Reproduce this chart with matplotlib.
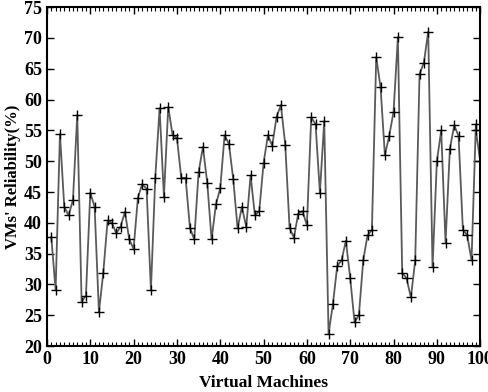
import numpy as np
import matplotlib
matplotlib.use('Agg')
import matplotlib.pyplot as plt
from matplotlib.ticker import MultipleLocator

# reliability of each virtual machine
vm_ids = list(range(1, 100)) + [99, 100]
reliability = [37.7, 29.1, 54.4, 42.6, 41.2, 43.7, 57.5, 27.2, 28.2, 44.9,
               42.6, 25.5, 31.9, 40.4, 40.0, 38.3, 39.4, 41.8, 37.3, 35.8,
               44.1, 46.3, 45.5, 29.1, 47.3, 58.6, 44.2, 58.8, 54.2, 53.8,
               47.3, 47.3, 39.2, 37.3, 48.2, 52.3, 46.5, 37.3, 43.0, 45.6,
               54.2, 52.8, 47.1, 39.1, 42.6, 39.3, 47.7, 41.2, 41.9, 49.7,
               54.2, 52.5, 57.2, 59.1, 52.7, 39.2, 37.6, 41.5, 41.9, 39.6,
               57.1, 56.0, 44.9, 56.5, 22.0, 26.8, 33.0, 33.9, 37.1, 31.0,
               23.9, 25.0, 33.9, 38.0, 38.8, 66.9, 62.0, 51.0, 54.1, 58.0,
               70.1, 31.9, 31.0, 27.9, 33.9, 64.1, 66.0, 71.0, 32.8, 50.0,
               55.0, 36.8, 52.0, 55.8, 54.1, 38.9, 38.0, 33.9, 56.0, 55.0,
               50.0]

plt.rcParams['font.family'] = ['Liberation Serif', 'DejaVu Serif']
plt.rcParams['font.weight'] = 'bold'

fig = plt.figure(figsize=(4.89, 3.92), dpi=100)
ax = fig.add_axes([0.096, 0.117, 0.886, 0.865])

ax.plot(vm_ids, reliability, color='#5a5a5a', linewidth=1.3, zorder=2)
ax.plot(vm_ids, reliability, linestyle='none', marker='+', markersize=6.5,
        markeredgewidth=1.0, color='black', zorder=3)

ax.set_xlim(0, 100)
ax.set_ylim(20, 75)
ax.xaxis.set_major_locator(MultipleLocator(10))
ax.xaxis.set_minor_locator(MultipleLocator(1))
ax.yaxis.set_major_locator(MultipleLocator(5))

ax.tick_params(axis='both', which='both', direction='in', top=True, right=True,
               labelsize=13)
ax.tick_params(which='major', length=5, width=1.0)
ax.tick_params(which='minor', length=3, width=0.8)
for lab in ax.get_xticklabels() + ax.get_yticklabels():
    lab.set_fontweight('bold')
for s in ax.spines.values():
    s.set_linewidth(1.5)

ax.set_xlabel('Virtual Machines', fontsize=12.5, fontweight='bold', labelpad=5)
ax.set_ylabel("VMs' Reliability(%)", fontsize=12, fontweight='bold', labelpad=2)

fig.savefig('out.png', dpi=100)
